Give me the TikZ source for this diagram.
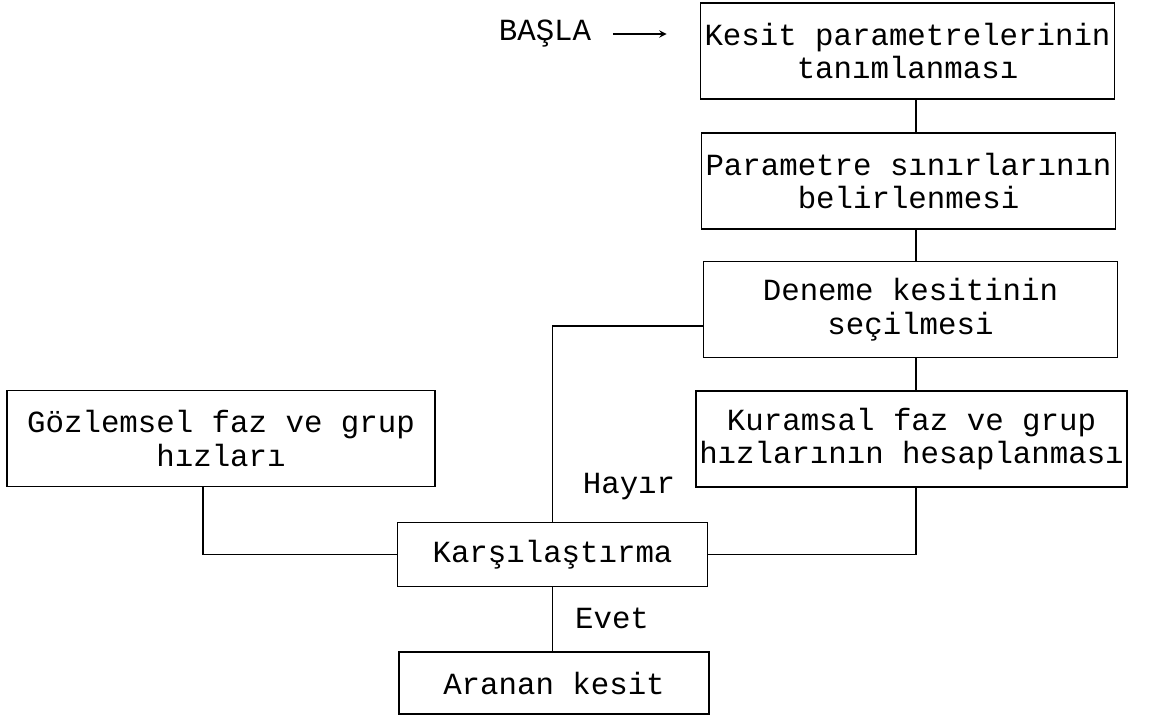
\documentclass[tikz,border=0pt]{standalone}
\usepackage{fontspec}
\setmonofont{Liberation Mono}
\usepackage{tikz}
\usetikzlibrary{arrows,positioning}

\newcommand{\flowfont}{\ttfamily\fontsize{17.5}{19}\selectfont}

\begin{document}
\begin{tikzpicture}[
    >=stealth,
    line width=0.9pt,
    stage/.style={draw, align=center, font=\flowfont, minimum width=8.28cm, minimum height=1.92cm, inner sep=2pt},
    result/.style={draw, font=\flowfont, minimum width=6.2cm, minimum height=1.28cm, inner sep=2pt},
    answer/.style={font=\flowfont, inner sep=0pt}
]

\useasboundingbox (0,0) rectangle (23.5,-14.4);

% === Main column ===
\node[answer] (basla) at (10.9,-0.68) {BAŞLA};
\node[stage] (tanim) at (18.15,-1.02) {Kesit parametrelerinin\\tanımlanması};
\node[stage] (sinir) at (18.17,-3.62) {Parametre sınırlarının\\belirlenmesi};
\node[stage] (deneme) at (18.21,-6.19) {Deneme kesitinin\\seçilmesi};
\node[stage] (kuram) at (18.23,-8.78) {Kuramsal faz ve grup\\hızlarının hesaplanması};

% Observed velocities
\node[stage, minimum width=8.56cm] (gozlem) at (4.42,-8.77) {Gözlemsel faz ve grup\\hızları};

% Comparison and result
\node[result] (karsi) at (11.05,-11.09) {Karşılaştırma};
\node[result, minimum height=1.24cm] (aranan) at (11.08,-13.66) {Aranan kesit};

% Answers
\node[answer] (hayir) at (12.58,-9.74) {Hayır};
\node[answer] (evet) at (12.24,-12.36) {Evet};

% Helper coordinates
\coordinate (col) at (18.32,0);
\coordinate (gcol) at (4.06,0);
\coordinate (back) at (11.05,-6.52);

% Start arrow
\draw[->, shorten <=0.42cm, shorten >=0.66cm] (basla.east) -- (tanim.west |- basla.east);

% Column links
\draw (tanim.south -| col) -- (sinir.north -| col);
\draw (sinir.south -| col) -- (deneme.north -| col);
\draw (deneme.south -| col) -- (kuram.north -| col);

% Into comparison
\draw (gozlem.south -| gcol) |- (karsi.west);
\draw (kuram.south -| col) |- (karsi.east);

% Loop back (Hayir) and exit (Evet)
\draw (deneme.west |- back) -- (back) -- (karsi.north);
\draw (karsi.south) -- (karsi.south |- aranan.north);

\end{tikzpicture}
\end{document}
